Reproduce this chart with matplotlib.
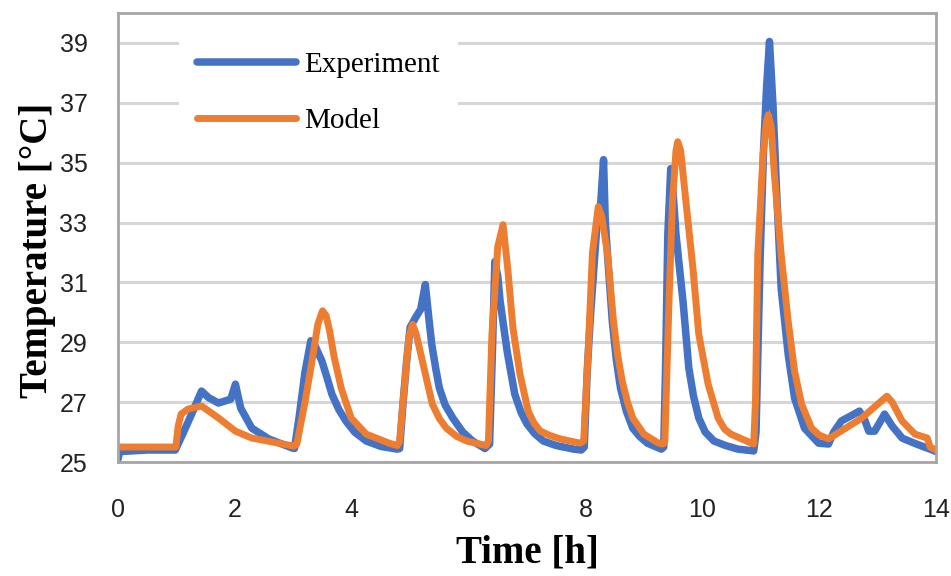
import matplotlib
matplotlib.use("Agg")
import matplotlib.pyplot as plt

# experiment data (time in h, temperature in C)
exp_t = [0.0, 0.03, 0.5, 0.98, 1.1, 1.26, 1.43, 1.55, 1.72, 1.93, 2.01, 2.1, 2.29, 2.58, 2.98,
         3.02, 3.1, 3.2, 3.3, 3.38, 3.49, 3.58, 3.66, 3.78, 3.9, 4.05, 4.25, 4.5, 4.78,
         4.82, 4.88, 4.94, 5.0, 5.1, 5.18, 5.26, 5.32, 5.37, 5.44, 5.5, 5.6, 5.73, 5.9, 6.07, 6.28,
         6.36, 6.41, 6.45, 6.5, 6.54, 6.66, 6.79, 6.9, 7.0, 7.13, 7.28, 7.5, 7.8, 7.93,
         7.98, 8.03, 8.08, 8.2, 8.26, 8.31, 8.34, 8.4, 8.46, 8.53, 8.6, 8.7, 8.81, 8.93, 9.06, 9.3,
         9.34, 9.37, 9.41, 9.46, 9.5, 9.55, 9.67, 9.77, 9.85, 9.94, 10.05, 10.2, 10.4, 10.61, 10.88,
         10.92, 10.95, 10.99, 11.05, 11.1, 11.15, 11.21, 11.27, 11.35, 11.47, 11.58, 11.75, 11.99, 12.16,
         12.25, 12.38, 12.55, 12.69, 12.78, 12.85, 12.95, 13.12, 13.25, 13.42, 13.6, 13.76, 13.98, 14.0]
exp_T = [25.1, 25.35, 25.4, 25.4, 25.9, 26.6, 27.37, 27.15, 26.97, 27.1, 27.6, 26.8, 26.13, 25.77, 25.47,
         25.45, 26.5, 28.0, 29.05, 28.85, 28.37, 27.8, 27.27, 26.75, 26.37, 26.0, 25.7, 25.52, 25.43,
         25.45, 27.0, 28.37, 29.5, 29.85, 30.1, 30.93, 29.8, 28.93, 28.1, 27.47, 26.9, 26.47, 26.0, 25.7, 25.45,
         25.6, 28.8, 31.7, 31.2, 30.37, 28.7, 27.27, 26.65, 26.27, 25.95, 25.7, 25.55, 25.43, 25.4,
         25.5, 28.0, 29.7, 33.0, 33.6, 35.1, 33.03, 31.3, 29.7, 28.4, 27.47, 26.7, 26.13, 25.85, 25.63, 25.43,
         25.5, 28.0, 32.6, 34.8, 34.0, 32.6, 30.37, 28.13, 27.2, 26.47, 26.0, 25.7, 25.55, 25.43, 25.37,
         26.0, 28.5, 31.8, 35.5, 37.5, 39.05, 36.93, 34.13, 30.8, 28.6, 27.13, 26.13, 25.63, 25.6,
         26.0, 26.37, 26.55, 26.7, 26.4, 26.03, 26.03, 26.6, 26.2, 25.8, 25.65, 25.53, 25.37, 25.35]

# model data
mod_t = [0.0, 0.99, 1.03, 1.08, 1.2, 1.43, 1.72, 2.01, 2.29, 2.75, 3.01,
         3.06, 3.2, 3.32, 3.42, 3.5, 3.56, 3.62, 3.7, 3.82, 3.99, 4.25, 4.64, 4.78,
         4.82, 4.9, 4.98, 5.04, 5.1, 5.21, 5.3, 5.38, 5.5, 5.62, 5.8, 5.97, 6.3,
         6.34, 6.4, 6.5, 6.59, 6.67, 6.76, 6.88, 7.02, 7.12, 7.23, 7.4, 7.57, 7.91,
         7.97, 8.05, 8.12, 8.22, 8.28, 8.38, 8.48, 8.55, 8.63, 8.72, 8.81, 9.0, 9.25, 9.33,
         9.36, 9.43, 9.49, 9.55, 9.58, 9.63, 9.72, 9.84, 9.94, 10.1, 10.27, 10.38, 10.49, 10.84, 10.88,
         10.91, 10.95, 11.04, 11.1, 11.13, 11.18, 11.23, 11.35, 11.47, 11.58, 11.7, 11.87, 12.0, 12.16,
         12.73, 13.16, 13.25, 13.42, 13.64, 13.85, 13.9, 14.0]
mod_T = [25.5, 25.5, 26.2, 26.6, 26.77, 26.87, 26.47, 26.03, 25.8, 25.63, 25.53,
         25.6, 27.0, 28.37, 29.6, 30.05, 29.9, 29.4, 28.5, 27.47, 26.47, 25.93, 25.63, 25.55,
         25.7, 27.5, 29.2, 29.6, 29.3, 28.37, 27.6, 26.93, 26.45, 26.13, 25.85, 25.7, 25.55,
         25.7, 29.27, 32.2, 32.93, 31.47, 29.47, 27.93, 26.7, 26.3, 26.03, 25.88, 25.77, 25.63,
         25.7, 28.8, 32.0, 33.53, 33.2, 31.93, 29.7, 28.6, 27.7, 27.0, 26.47, 25.93, 25.63, 25.6,
         25.7, 30.37, 33.7, 35.4, 35.7, 35.4, 33.7, 31.47, 29.27, 27.6, 26.47, 26.1, 25.93, 25.63, 25.6,
         27.0, 31.93, 35.27, 36.4, 36.6, 36.2, 34.7, 31.93, 29.7, 28.03, 26.93, 26.13, 25.9, 25.77,
         26.47, 27.2, 27.0, 26.37, 25.93, 25.8, 25.5, 25.4]

x_ticks = [0, 2, 4, 6, 8, 10, 12, 14]
y_ticks = [25, 27, 29, 31, 33, 35, 37, 39]

fig = plt.figure(figsize=(9.51, 5.76), dpi=100)
ax = fig.add_axes([118/951, 1 - 462/576, 818/951, 449/576])

ax.plot(exp_t, exp_T, color='#4472C4', linewidth=5.4, label='Experiment',
        solid_joinstyle='round', solid_capstyle='round')
ax.plot(mod_t, mod_T, color='#ED7D31', linewidth=5, label='Model',
        solid_joinstyle='round', solid_capstyle='round')

ax.set_xlim(0, 14)
ax.set_ylim(25, 40)
ax.set_xticks(x_ticks)
ax.set_yticks(y_ticks)
ax.tick_params(axis='both', length=0, labelsize=18, colors='#222222')
ax.tick_params(axis='y', pad=22)
ax.tick_params(axis='x', pad=26)
for lab in ax.get_xticklabels() + ax.get_yticklabels():
    lab.set_fontfamily('Liberation Sans')

ax.grid(axis='y', color='#D6D6D6', linewidth=2.2)
ax.set_axisbelow(True)
for sp in ax.spines.values():
    sp.set_color('#A6A6A6')
    sp.set_linewidth(2)

ax.set_xlabel('Time [h]', fontsize=28, fontweight='bold', family='Liberation Serif', va='center')
ax.xaxis.set_label_coords(0.5, -0.203)
ax.set_ylabel('Temperature [°C]', fontsize=28, fontweight='bold', family='Liberation Serif', va='center')
ax.yaxis.set_label_coords(-0.098, 0.472)

leg = ax.legend(loc='upper left', bbox_to_anchor=(0.057, 0.985), frameon=True,
                facecolor='white', edgecolor='none', framealpha=1, fancybox=False,
                prop={'family': 'Liberation Serif', 'size': 21},
                handlelength=3.4, handletextpad=0.3, labelspacing=1.0, borderpad=0.6)

fig.savefig('out.png', dpi=100)
